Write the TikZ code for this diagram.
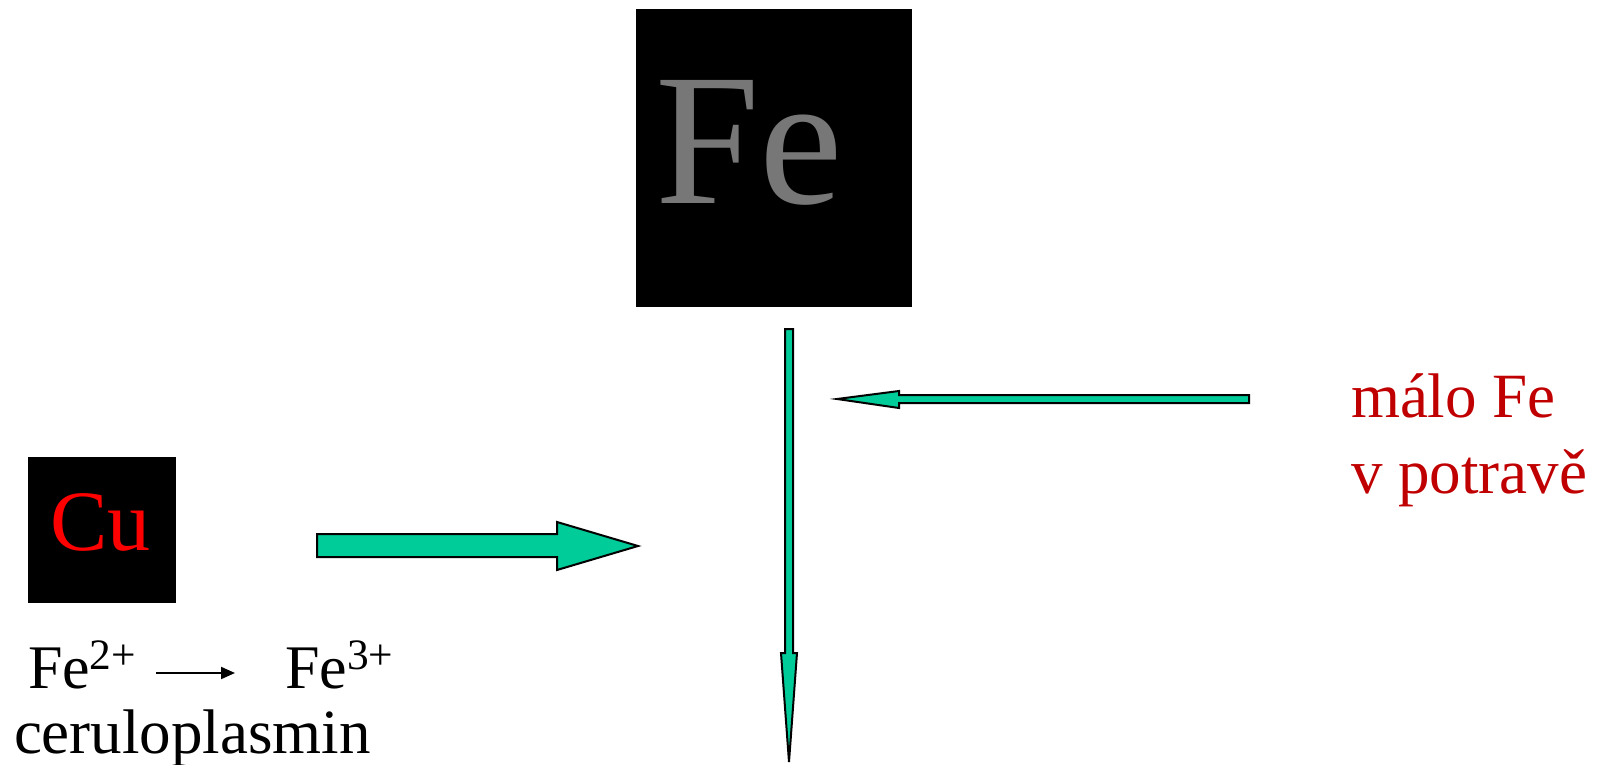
\documentclass[tikz,border=0pt]{standalone}
\usepackage{fontspec}
\setmainfont{Liberation Serif}
\usetikzlibrary{arrows.meta}
\definecolor{arrowgreen}{HTML}{00CC99}
\definecolor{darkred}{HTML}{C00000}
\definecolor{fegray}{HTML}{777777}
\tikzset{
  lbl/.style={inner sep=0pt, outer sep=0pt, anchor=base west},
  blockarrow/.style={fill=arrowgreen, draw=black, line width=1pt, line join=miter},
}
\begin{document}
\begin{tikzpicture}[x=0.5pt, y=-0.5pt]
\useasboundingbox (0,0) rectangle (1603,765);
% Fe box
\fill[black] (636,9) rectangle (912,307);
\node[lbl, text=fegray, font=\fontsize{94}{94}\selectfont] (fe) at (655,204) {Fe};
% Cu box
\fill[black] (28,457) rectangle (176,603);
\node[lbl, text=red, font=\fontsize{43}{43}\selectfont] (cu) at (50,550) {Cu};
% vertical arrow
\draw[blockarrow] (785,329) -- (793,329) -- (793,653) -- (797,653) -- (789,762) -- (781,653) -- (785,653) -- cycle;
% left-pointing arrow
\draw[blockarrow] (1249,395) -- (1249,403) -- (899,403) -- (899,408) -- (837,399) -- (899,391) -- (899,395) -- cycle;
% right-pointing arrow
\draw[blockarrow] (317,534) -- (557,534) -- (557,522) -- (638,546) -- (557,570) -- (557,557) -- (317,557) -- cycle;
% texts
\node[lbl, text=darkred, font=\fontsize{31.5}{31.5}\selectfont] (malo) at (1351,417) {málo Fe};
\node[lbl, text=darkred, font=\fontsize{31.5}{31.5}\selectfont] (potrave) at (1351,493) {v potravě};
\node[lbl, font=\fontsize{31}{31}\selectfont] (fe2) at (28,688) {Fe\textsuperscript{2+}};
\node[lbl, font=\fontsize{31}{31}\selectfont] (fe3) at (285,688) {Fe\textsuperscript{3+}};
\node[lbl, font=\fontsize{31.5}{31.5}\selectfont] (cerulo) at (14,753) {ceruloplasmin};
\coordinate (sa) at (156,673);
\coordinate (sb) at (235,673);
\draw[line width=1pt, -{Triangle[length=7pt,width=6pt]}] (sa) -- (sb);
\end{tikzpicture}
\end{document}
